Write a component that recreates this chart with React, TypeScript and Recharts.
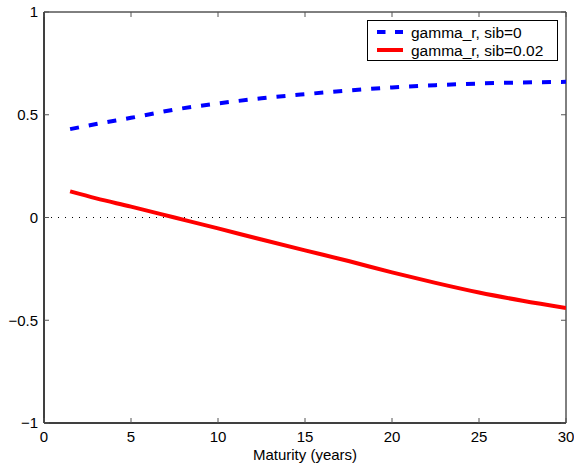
import React from "react";
import {
  LineChart, Line, XAxis, YAxis, ReferenceLine, ReferenceArea, Legend,
} from "recharts";

const maturity = [1.5, 3, 5, 7.5, 10, 12.5, 15, 17.5, 20, 22.5, 25, 27.5, 30];
const gammaSib0 = [0.43, 0.455, 0.485, 0.525, 0.555, 0.58, 0.6, 0.618, 0.633, 0.644, 0.652, 0.657, 0.66];
const gammaSib002 = [0.127, 0.093, 0.053, 0.0, -0.053, -0.107, -0.16, -0.212, -0.267, -0.318, -0.365, -0.405, -0.44];

const xTicks = [0, 5, 10, 15, 20, 25, 30];
const yTicks = [-1, -0.5, 0, 0.5, 1];
const seriesNames = ["gamma_r, sib=0", "gamma_r, sib=0.02"];

const data = maturity.map((m, i) => ({
  maturity: m,
  sib0: gammaSib0[i],
  sib002: gammaSib002[i],
}));

const W = 574;
const H = 466;
const MARGIN = { top: 12, right: 8, bottom: 0, left: 0 };
const X_AXIS_H = 43;
const Y_AXIS_W = 44;
const PLOT_H = H - MARGIN.top - MARGIN.bottom - X_AXIS_H;
const PLOT_W = W - MARGIN.left - MARGIN.right - Y_AXIS_W;

const FONT = "'Liberation Sans', Arial, Helvetica, sans-serif";
const TICK_LEN = 5;
const TICK_COLOR = "#555";

const fmt = (v: number) => (v < 0 ? "\u2212" + String(-v) : String(v));

// MATLAB style: ticks point inward on all four sides, labels outside
const BottomTick = (props: any) => {
  const { x, y, payload } = props;
  const top = y - PLOT_H;
  return (
    <g>
      <line x1={x} y1={y} x2={x} y2={y - TICK_LEN} stroke={TICK_COLOR} />
      <line x1={x} y1={top} x2={x} y2={top + TICK_LEN} stroke={TICK_COLOR} />
      <text x={x} y={y + 19} textAnchor="middle" fontSize={15} fontFamily={FONT} fill="#000">
        {fmt(payload.value)}
      </text>
    </g>
  );
};

const LeftTick = (props: any) => {
  const { x, y, payload } = props;
  const right = x + PLOT_W;
  return (
    <g>
      <line x1={x} y1={y} x2={x + TICK_LEN} y2={y} stroke={TICK_COLOR} />
      <line x1={right} y1={y} x2={right - TICK_LEN} y2={y} stroke={TICK_COLOR} />
      <text x={x - 6} y={y} dy="0.36em" textAnchor="end" fontSize={15} fontFamily={FONT} fill="#000">
        {fmt(payload.value)}
      </text>
    </g>
  );
};

function LegendBox() {
  return (
    <svg width={192} height={41} style={{ display: "block" }}>
      <rect x={0.5} y={0.5} width={190} height={40} fill="#fff" stroke="#000" />
      <line x1={10} y1={12} x2={36} y2={12} stroke="#0000ff" strokeWidth={4} strokeDasharray="8.5 9.5" />
      <line x1={10} y1={30} x2={36} y2={30} stroke="#ff0000" strokeWidth={4} />
      <text x={44} y={12} dy="0.36em" fontSize={15.5} fontFamily={FONT} fill="#000">{seriesNames[0]}</text>
      <text x={44} y={30} dy="0.36em" fontSize={15.5} fontFamily={FONT} fill="#000">{seriesNames[1]}</text>
    </svg>
  );
}

export default function App() {
  return (
    <div style={{ position: "absolute", left: 0, top: 0, background: "#fff" }}>
      <LineChart width={W} height={H} data={data} margin={MARGIN}>
        <XAxis
          dataKey="maturity"
          type="number"
          domain={[0, 30]}
          ticks={xTicks}
          height={X_AXIS_H}
          tickSize={0}
          tickMargin={0}
          tickLine={false}
          axisLine={{ stroke: "#000" }}
          tick={<BottomTick />}
          allowDataOverflow
          label={{ value: "Maturity (years)", position: "insideBottom", offset: 6, fontSize: 15, fontFamily: FONT, fill: "#000" }}
        />
        <YAxis
          type="number"
          domain={[-1, 1]}
          ticks={yTicks}
          width={Y_AXIS_W}
          tickSize={0}
          tickMargin={0}
          tickLine={false}
          axisLine={{ stroke: "#000" }}
          tick={<LeftTick />}
          allowDataOverflow
        />
        <ReferenceArea x1={0} x2={30} y1={-1} y2={1} fill="none" stroke="#000" ifOverflow="visible" />
        <ReferenceLine y={0} stroke="#000" strokeDasharray="1 6" />
        <Line
          type="monotone"
          dataKey="sib0"
          name={seriesNames[0]}
          stroke="#0000ff"
          strokeWidth={4}
          strokeDasharray="9 10"
          dot={false}
          isAnimationActive={false}
        />
        <Line
          type="monotone"
          dataKey="sib002"
          name={seriesNames[1]}
          stroke="#ff0000"
          strokeWidth={4}
          dot={false}
          isAnimationActive={false}
        />
        <Legend
          layout="vertical"
          align="center"
          verticalAlign="middle"
          content={() => <LegendBox />}
          wrapperStyle={{ left: 367, top: 20, width: 192, height: 41 }}
        />
      </LineChart>
    </div>
  );
}
